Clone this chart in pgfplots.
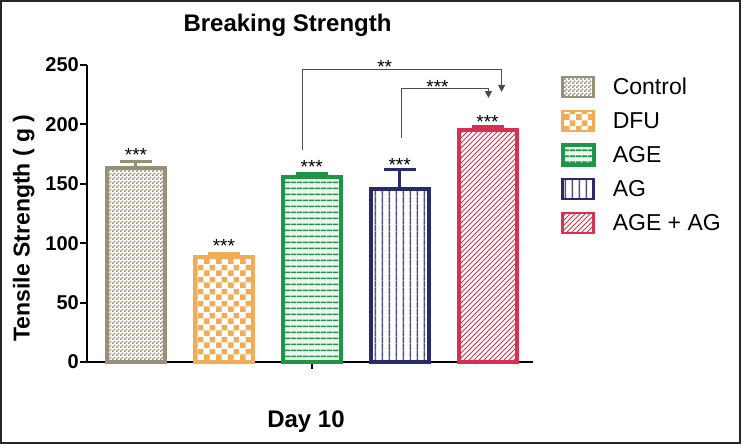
\documentclass[border=0pt]{standalone}
\usepackage{pgfplots}
\pgfplotsset{compat=1.18}
\usepackage{fontspec}
\setmainfont{Liberation Sans}
\usetikzlibrary{patterns,arrows.meta}

\definecolor{ctrl}{RGB}{152,144,118}
\definecolor{dfu}{RGB}{242,172,88}
\definecolor{age}{RGB}{30,150,72}
\definecolor{ag}{RGB}{40,42,110}
\definecolor{agline}{RGB}{80,80,120}
\definecolor{ageag}{RGB}{214,50,80}

\pgfdeclarepatternformonly{finecheck}{\pgfpointorigin}{\pgfqpoint{4pt}{4pt}}{\pgfqpoint{4pt}{4pt}}{%
 \pgfpathrectangle{\pgfpointorigin}{\pgfqpoint{2pt}{2pt}}%
 \pgfpathrectangle{\pgfqpoint{2pt}{2pt}}{\pgfqpoint{2pt}{2pt}}%
 \pgfusepath{fill}}
\pgfdeclarepatternformonly{bigcheck}{\pgfpointorigin}{\pgfqpoint{12pt}{12pt}}{\pgfqpoint{12pt}{12pt}}{%
 \pgfpathrectangle{\pgfpointorigin}{\pgfqpoint{6pt}{6pt}}%
 \pgfpathrectangle{\pgfqpoint{6pt}{6pt}}{\pgfqpoint{6pt}{6pt}}%
 \pgfusepath{fill}}
\pgfdeclarepatternformonly{hlinesA}{\pgfpointorigin}{\pgfqpoint{5.7pt}{5.7pt}}{\pgfqpoint{5.7pt}{5.7pt}}{%
 \pgfsetlinewidth{1.6pt}%
 \pgfpathmoveto{\pgfqpoint{0pt}{2.85pt}}\pgfpathlineto{\pgfqpoint{5.7pt}{2.85pt}}%
 \pgfusepath{stroke}}
\pgfdeclarepatternformonly{vlinesA}{\pgfpointorigin}{\pgfqpoint{7.3pt}{7.3pt}}{\pgfqpoint{7.3pt}{7.3pt}}{%
 \pgfsetlinewidth{1.5pt}%
 \pgfpathmoveto{\pgfqpoint{3.65pt}{0pt}}\pgfpathlineto{\pgfqpoint{3.65pt}{7.3pt}}%
 \pgfusepath{stroke}}
\pgfdeclarepatternformonly{nelinesA}{\pgfqpoint{-1pt}{-1pt}}{\pgfqpoint{6pt}{6pt}}{\pgfqpoint{5pt}{5pt}}{%
 \pgfsetlinewidth{1pt}%
 \pgfpathmoveto{\pgfqpoint{0pt}{0pt}}\pgfpathlineto{\pgfqpoint{5.1pt}{5.1pt}}%
 \pgfusepath{stroke}}

\begin{document}
\begin{tikzpicture}
\path[use as bounding box] (0,0) rectangle (741pt,444pt);
\draw[line width=2pt, black!85] (1pt,1pt) rectangle (740pt,443pt);
\begin{axis}[
  at={(87pt,82pt)}, anchor=south west,
  scale only axis, width=446pt, height=297pt,
  xmin=-0.557, xmax=4.517, ymin=0, ymax=250,
  axis lines*=left,
  axis line style={-, line width=2pt, black},
  clip=false,
  ybar, bar width=58pt,
  xtick={2}, xticklabels={},
  ytick={0,50,100,150,200,250},
  tick align=outside, major tick length=7pt,
  tick style={line width=2pt, black},
  /pgf/number format/assume math mode=true,
  yticklabel style={font=\bfseries\fontsize{20}{24}\selectfont, inner sep=1pt},
  title={Breaking Strength},
  title style={at={(axis description cs:0.4496,1.094)}, anchor=base, font=\bfseries\fontsize{24}{28}\selectfont},
  xlabel={Day 10},
  xlabel style={at={(axis description cs:0.491,-0.219)}, anchor=base, font=\bfseries\fontsize{24}{28}\selectfont},
  ylabel={Tensile Strength ( g )},
  ylabel style={at={(axis description cs:-0.142,0.451)}, anchor=center, font=\bfseries\fontsize{23}{27}\selectfont},
  legend image code/.code={\draw[#1, line width=2.5pt] (0pt,-10pt) rectangle (31pt,10pt);},
  legend cell align=left,
  legend style={at={(axis description cs:1.063,0.965)}, anchor=north west, draw=none, fill=none,
    inner sep=0pt, row sep=11.6pt, font=\fontsize{23}{26}\selectfont,
    nodes={inner sep=0pt},
    /tikz/every odd column/.append style={column sep=18pt}},
]
\addplot[bar shift=0pt, draw=ctrl, line width=4pt, pattern=finecheck, pattern color=ctrl,
  error bars/.cd, y dir=plus, y explicit,
  error bar style={line width=3pt, ctrl},
  error mark options={rotate=90, line width=3pt, ctrl, mark size=16pt}]
  coordinates {(0,163) +- (0,6)};
\addlegendentry{Control}
\addplot[bar shift=0pt, draw=dfu, line width=4pt, pattern=bigcheck, pattern color=dfu,
  error bars/.cd, y dir=plus, y explicit,
  error bar style={line width=3pt, dfu},
  error mark options={rotate=90, line width=3pt, dfu, mark size=16pt}]
  coordinates {(1,88) +- (0,3)};
\addlegendentry{DFU}
\addplot[bar shift=0pt, draw=age, line width=4pt, preaction={fill=age!8}, pattern=hlinesA, pattern color=age,
  error bars/.cd, y dir=plus, y explicit,
  error bar style={line width=3pt, age},
  error mark options={rotate=90, line width=3pt, age, mark size=16pt}]
  coordinates {(2,156) +- (0,3)};
\addlegendentry{AGE}
\addplot[bar shift=0pt, draw=ag, line width=4pt, pattern=vlinesA, pattern color=agline,
  error bars/.cd, y dir=plus, y explicit,
  error bar style={line width=3pt, ag},
  error mark options={rotate=90, line width=3pt, ag, mark size=16pt}]
  coordinates {(3,146) +- (0,16)};
\addlegendentry{AG}
\addplot[bar shift=0pt, draw=ageag, line width=4pt, pattern=nelinesA, pattern color=ageag,
  error bars/.cd, y dir=plus, y explicit,
  error bar style={line width=3pt, ageag},
  error mark options={rotate=90, line width=3pt, ageag, mark size=16pt}]
  coordinates {(4,195) +- (0,3)};
\addlegendentry{AGE + AG}

\begin{scope}[font=\fontsize{19}{21}\selectfont]
\node[anchor=base] at (axis cs:0,168.8) {***};
\node[anchor=base] at (axis cs:1,92.2) {***};
\node[anchor=base] at (axis cs:2,158.7) {***};
\node[anchor=base] at (axis cs:3,160.7) {***};
\node[anchor=base] at (axis cs:4,196.6) {***};
\node[anchor=base] at (axis cs:2.83,242.9) {**};
\node[anchor=base] at (axis cs:3.43,226) {***};
\end{scope}
\draw[line width=1pt, black!70, -{Triangle[length=7pt,width=7pt]}]
  (axis cs:1.9,178.5) |- (axis cs:4.16,245.8) -- (axis cs:4.16,227.3);
\draw[line width=1pt, black!70, -{Triangle[length=7pt,width=7pt]}]
  (axis cs:3.02,188.6) |- (axis cs:4.01,229.8) -- (axis cs:4.01,222.2);
\end{axis}
\end{tikzpicture}
\end{document}
